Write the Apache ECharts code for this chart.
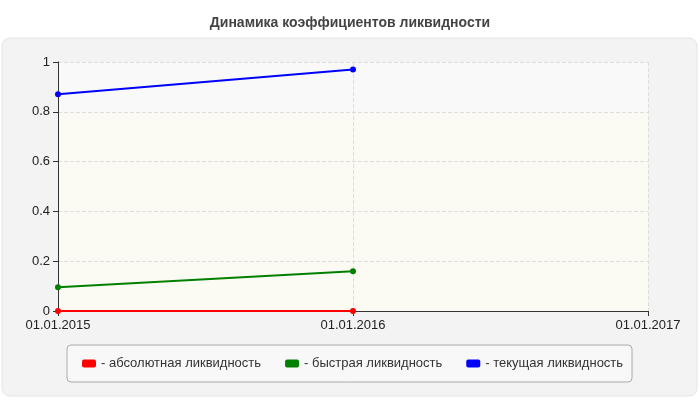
<!DOCTYPE html>
<html><head><meta charset="utf-8">
<script src="https://cdn.jsdelivr.net/npm/echarts@6/dist/echarts.min.js"></script>
<style>body{margin:0;background:#fff}#c{width:700px;height:400px}</style>
</head><body><div id="c"></div>
<script>
const categories = ['01.01.2015','01.01.2016','01.01.2017'];
const absLiq = [0, 0, null];
const quickLiq = [0.095, 0.16, null];
const curLiq = [0.87, 0.97, null];
const yTicks = [0, 0.2, 0.4, 0.6, 0.8, 1];
const names = ['- абсолютная ликвидность','- быстрая ликвидность','- текущая ликвидность'];
const colors = ['#ff0000','#008000','#0000ff'];
const chart = echarts.init(document.getElementById('c'));
const mk = (n, d, c) => ({name:n, type:'line', data:d, symbol:'circle', symbolSize:6,
  lineStyle:{color:c,width:2}, itemStyle:{color:c}, color:c, animation:false});
chart.setOption({
  animation:false,
  textStyle:{fontFamily:'Arial, Liberation Sans, sans-serif'},
  title:{text:'Динамика коэффициентов ликвидности', left:'center', top:11,
    textStyle:{fontSize:14,fontWeight:'bold',color:'#444'}},
  graphic:[
    {type:'rect', shape:{x:2,y:38,width:695,height:358,r:8}, style:{fill:'#f3f3f3',stroke:'#e4e4e4'}, z:-10},
    {type:'rect', shape:{x:67,y:345,width:565,height:37,r:4}, style:{fill:'#f8f8f8',stroke:'#aaa'}, z:-5}
  ],
  grid:{left:58,right:52,top:62,bottom:89},
  legend:{top:352,left:77,itemWidth:14,itemHeight:8,itemGap:24,icon:'roundRect',
    textStyle:{fontSize:13,color:'#333'}, data:names},
  xAxis:{type:'category',data:categories,boundaryGap:false,
    axisLine:{lineStyle:{color:'#333'}},axisTick:{show:true,length:5,lineStyle:{color:'#333'}},
    axisLabel:{fontSize:13,color:'#222',margin:8},
    splitLine:{show:true,lineStyle:{type:'dashed',color:'#ddd'}}},
  yAxis:{type:'value',min:0,max:1,interval:0.2,
    axisLine:{show:true,lineStyle:{color:'#333'}},axisTick:{show:true,length:5,lineStyle:{color:'#333'}},
    axisLabel:{fontSize:13,color:'#222',formatter:v=>yTicks.includes(+v.toFixed(1))?String(+v.toFixed(1)):''},
    splitLine:{lineStyle:{type:'dashed',color:'#ddd'}},
    splitArea:{show:true,areaStyle:{color:['#fbfbf4','#fbfbf4','#fbfbf4','#fbfbf4','#f9f9f9']}}},
  series:[mk(names[0],absLiq,colors[0]),mk(names[1],quickLiq,colors[1]),mk(names[2],curLiq,colors[2])]
});
</script></body></html>
